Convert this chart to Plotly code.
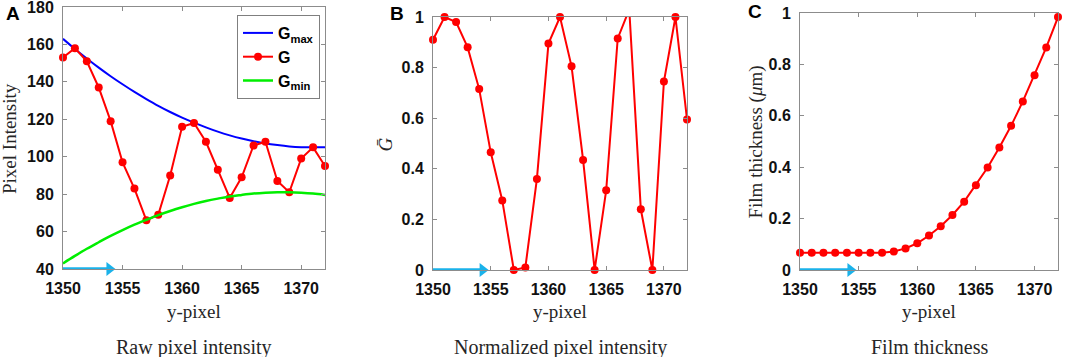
import plotly.graph_objects as go

# ---------------- data ----------------
y_pixel = list(range(1350, 1373))

g_raw = [153, 158, 151, 137, 119, 97, 83, 66, 69, 90, 116, 118, 108, 93, 78, 89,
         106, 108, 87, 81, 99, 105, 95]

g_max = [163.0, 157.6, 152.5, 147.6, 143.0, 138.7, 134.6, 130.8, 127.2, 123.9,
         120.9, 118.2, 115.7, 113.4, 111.4, 109.7, 108.3, 107.1, 106.2, 105.5,
         105.1, 105.0, 105.1]

g_min = [43.0, 47.0, 50.8, 54.3, 57.7, 60.8, 63.7, 66.3, 68.8, 71.0, 73.0, 74.8,
         76.3, 77.6, 78.8, 79.6, 80.3, 80.75, 81.0, 81.0, 80.75, 80.3, 79.6]

g_norm = [0.91, 1.0, 0.98, 0.88, 0.715, 0.465, 0.275, 0.0, 0.01, 0.36, 0.895, 1.0,
          0.805, 0.435, 0.0, 0.315, 0.915, 1.03, 0.24, 0.0, 0.745, 1.0, 0.595]

thickness = [0.067, 0.067, 0.067, 0.067, 0.067, 0.067, 0.067, 0.067, 0.072, 0.084,
             0.104, 0.134, 0.170, 0.214, 0.266, 0.330, 0.399, 0.477, 0.561, 0.656,
             0.758, 0.866, 0.984]

x_ticks = [1350, 1355, 1360, 1365, 1370]
a_yticks = [40, 60, 80, 100, 120, 140, 160, 180]
bc_yticks = [0, 0.2, 0.4, 0.6, 0.8, 1]
bc_yticklabels = ["0", "0.2", "0.4", "0.6", "0.8", "1"]

arrow_start = 1350
arrow_head = [1353.9, 1354.3, 1354.3]   # centre of arrow head, per panel
panel_letters = ["A", "B", "C"]
y_titles = ["Pixel Intensity", "<i>Ḡ</i>", "Film thickness (<i>μ</i>m)"]
bottom_titles = ["Raw pixel intensity", "Normalized pixel intensity", "Film thickness"]

# ---------------- layout geometry ----------------
W, H = 1065, 357
boxes = [(63, 325, 7, 269), (433, 687, 17, 270), (800, 1058, 13, 270)]
y_ranges = [[40, 180], [0, 1], [0, 1]]
ytitle_x = [10, 385, 755]
letter_pos = [(12.5, 14), (397, 14), (755, 12)]

RED = "#ff0000"
AX = "#8c8c8c"
TXT = "#262626"
ARROW = "#1ab2ea"
MS = 8

fig = go.Figure()

fig.add_trace(go.Scatter(x=y_pixel, y=g_max, mode="lines", name="<b>G<sub>max</sub></b>",
                         line=dict(color="#0000ff", width=2, shape="spline"),
                         xaxis="x", yaxis="y"))
fig.add_trace(go.Scatter(x=y_pixel, y=g_raw, mode="lines+markers", name="<b>G</b>",
                         line=dict(color=RED, width=2),
                         marker=dict(color=RED, size=MS, line=dict(width=0)),
                         cliponaxis=False, xaxis="x", yaxis="y"))
fig.add_trace(go.Scatter(x=y_pixel, y=g_min, mode="lines", name="<b>G<sub>min</sub></b>",
                         line=dict(color="#00ee00", width=2.5, shape="spline"),
                         xaxis="x", yaxis="y"))

# panel B: clipped line + unclipped markers (markers outside the box hidden)
fig.add_trace(go.Scatter(x=y_pixel, y=g_norm, mode="lines", showlegend=False,
                         line=dict(color=RED, width=2), cliponaxis=True,
                         xaxis="x2", yaxis="y2"))
fig.add_trace(go.Scatter(x=y_pixel, y=g_norm, mode="markers", showlegend=False,
                         marker=dict(color=RED, size=[MS if v <= 1 else 0 for v in g_norm],
                                     opacity=1, line=dict(width=0)),
                         cliponaxis=False, xaxis="x2", yaxis="y2"))

fig.add_trace(go.Scatter(x=y_pixel, y=thickness, mode="lines+markers", showlegend=False,
                         line=dict(color=RED, width=2),
                         marker=dict(color=RED, size=MS, line=dict(width=0)),
                         cliponaxis=False, xaxis="x3", yaxis="y3"))

# cyan arrows along the bottom axis of each panel
for i in range(3):
    sfx = "" if i == 0 else str(i + 1)
    ymin = y_ranges[i][0]
    fig.add_trace(go.Scatter(x=[arrow_start, arrow_head[i]], y=[ymin, ymin],
                             mode="lines+markers", showlegend=False, hoverinfo="skip",
                             line=dict(color=ARROW, width=3.5),
                             marker=dict(symbol=["circle", "triangle-right"], size=[0, 12],
                                         color=ARROW, opacity=1, line=dict(width=0)),
                             cliponaxis=False, xaxis="x" + sfx, yaxis="y" + sfx))

tickfont = dict(family="Liberation Sans, Arial", size=16, color="#111111", weight="bold")
serif = dict(family="Liberation Serif, Times New Roman, serif", size=19, color=TXT)

annotations = []
layout_axes = {}
for i, (l, r, t, b) in enumerate(boxes):
    sfx = "" if i == 0 else str(i + 1)
    xdom = [l / W, r / W]
    ydom = [1 - b / H, 1 - t / H]
    layout_axes["xaxis" + sfx] = dict(
        domain=xdom, range=[1350, 1372], tickvals=x_ticks, ticks="inside", ticklen=4,
        tickcolor=AX, showline=True, linecolor=AX, linewidth=1, mirror="ticks",
        showgrid=False, zeroline=False, tickfont=tickfont, anchor="y" + sfx,
        ticklabelstandoff=5, automargin=False, ticklabeloverflow="allow",
    )
    if i == 0:
        yt = dict(tickvals=a_yticks)
    else:
        yt = dict(tickvals=bc_yticks, ticktext=bc_yticklabels)
    layout_axes["yaxis" + sfx] = dict(
        domain=ydom, range=y_ranges[i], ticks="inside", ticklen=4,
        tickcolor=AX, showline=True, linecolor=AX, linewidth=1, mirror="ticks",
        showgrid=False, zeroline=False, tickfont=tickfont, anchor="x" + sfx,
        ticklabelstandoff=5, automargin=False, ticklabeloverflow="allow", **yt,
    )
    cx = (l + r) / 2 / W
    annotations.append(dict(text="y-pixel", x=cx, y=1 - 311 / H, xref="paper", yref="paper",
                            showarrow=False, font=serif, xanchor="center", yanchor="middle"))
    annotations.append(dict(text=bottom_titles[i], x=cx, y=1 - 347 / H, xref="paper",
                            yref="paper", showarrow=False, font=dict(serif, size=20),
                            xanchor="center", yanchor="middle"))
    annotations.append(dict(text=y_titles[i], x=ytitle_x[i] / W, y=1 - ((t + b) / 2 + 1) / H,
                            xref="paper", yref="paper", showarrow=False, textangle=-90,
                            font=serif, xanchor="center", yanchor="middle"))
    lx, ly = letter_pos[i]
    annotations.append(dict(text="<b>" + panel_letters[i] + "</b>", x=lx / W, y=1 - ly / H,
                            xref="paper", yref="paper", showarrow=False,
                            font=dict(family="Liberation Sans, Arial", size=19, color="black"),
                            xanchor="center", yanchor="middle"))

fig.update_layout(
    width=W, height=H, margin=dict(l=0, r=0, t=0, b=0, autoexpand=False),
    paper_bgcolor="white", plot_bgcolor="white",
    annotations=annotations,
    legend=dict(x=237 / W, y=1 - 15 / H, xanchor="left", yanchor="top",
                bordercolor="#7f7f7f", borderwidth=1, bgcolor="white",
                font=dict(family="Liberation Sans, Arial", size=16, color="black"),
                itemwidth=30, tracegroupgap=0),
    showlegend=True,
    **layout_axes,
)

fig.write_html(
    "out.html",
    config={"displayModeBar": False},
    post_script="document.body.style.margin='0px';document.body.style.overflow='hidden';",
)
